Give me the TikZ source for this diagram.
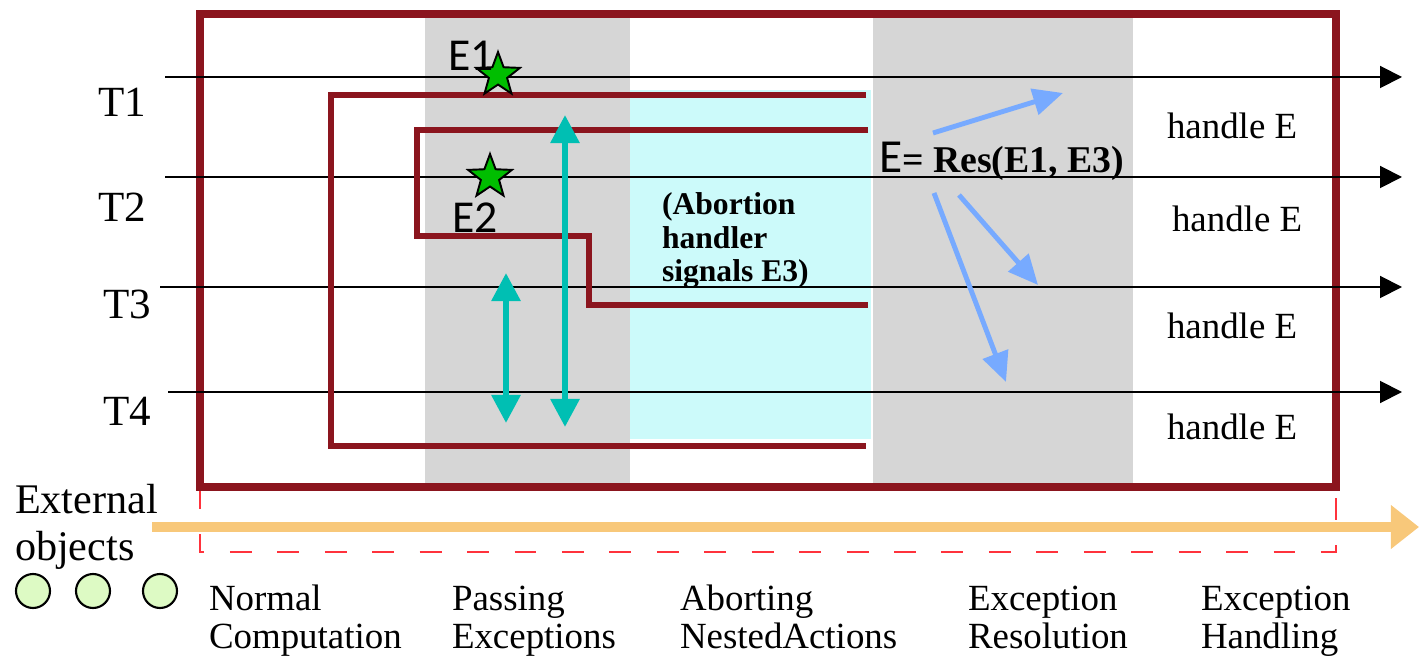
\documentclass[tikz,border=0pt]{standalone}
\usepackage{fontspec}
\setmainfont{Liberation Serif}
\newfontfamily\calib{Carlito}
\usetikzlibrary{arrows.meta,shapes.geometric}

\definecolor{maroon}{RGB}{139,21,30}
\definecolor{bandgray}{RGB}{214,214,214}
\definecolor{abortcyan}{RGB}{204,250,250}
\definecolor{linkteal}{RGB}{0,191,179}
\definecolor{resblue}{RGB}{119,170,255}
\definecolor{extorange}{RGB}{248,200,122}
\definecolor{dashred}{RGB}{255,50,60}
\definecolor{objgreen}{RGB}{221,250,196}
\definecolor{stargreen}{RGB}{0,190,0}

\begin{document}
\begin{tikzpicture}[x=0.02cm,y=-0.02cm,
  every node/.style={inner sep=0pt,outer sep=0pt},
  txt/.style={anchor=base west,font=\fontsize{21}{25}\selectfont},
  tlabel/.style={anchor=base west,font=\fontsize{24.5}{29}\selectfont},
  abortxt/.style={anchor=base west,font=\fontsize{18}{21}\selectfont\bfseries},
  elabel/.style={anchor=base west,font=\calib\fontsize{26}{30}\selectfont},
  timeline/.style={line width=1.1pt,-{Triangle[length=12.5pt,width=12.5pt]}},
  bracket/.style={draw=maroon,line width=3.2pt},
  passarrow/.style={draw=linkteal,line width=3.4pt,
    {Triangle[length=16pt,width=16pt]}-{Triangle[length=16pt,width=16pt]}},
  resarrow/.style={draw=resblue,line width=2.8pt,-{Triangle[length=17pt,width=15pt]}},
  excstar/.style={star,star points=5,star point ratio=2.4,minimum size=0.92cm,
    draw=black,line width=1.1pt,fill=stargreen},
  extobj/.style={circle,minimum size=0.68cm,draw=black,line width=1.2pt,fill=objgreen}
]
\useasboundingbox (0,0) rectangle (1419,658);

% phase bands and the nested-action region
\fill[bandgray] (425,18) rectangle (630,483);
\fill[bandgray] (873,18) rectangle (1133,483);
\fill[abortcyan] (630,90) rectangle (871,439);

% external objects axis and its dashed frame
\coordinate (exts) at (152,527);
\coordinate (exte) at (1419,527);
\draw[extorange,line width=6.2pt,-{Triangle[length=16pt,width=24pt]}] (exts) -- (exte);
\draw[dashred,line width=1.2pt,dash pattern=on 12.5pt off 14.5pt] (200,487) rectangle (1336,552);

% outer coordinated atomic action
\draw[maroon,line width=4.5pt] (200,14) rectangle (1336,487);

% thread timelines
\coordinate (t1s) at (165,77);  \coordinate (t1e) at (1402,77);
\coordinate (t2s) at (165,177); \coordinate (t2e) at (1402,177);
\coordinate (t3s) at (160,287); \coordinate (t3e) at (1402,287);
\coordinate (t4s) at (168,392); \coordinate (t4e) at (1402,392);
\draw[timeline] (t1s) -- (t1e);
\draw[timeline] (t2s) -- (t2e);
\draw[timeline] (t3s) -- (t3e);
\draw[timeline] (t4s) -- (t4e);

% nested actions
\draw[bracket] (866,95) -- (331,95) -- (331,446) -- (866,446);
\draw[bracket] (868,130) -- (417,130) -- (417,236) -- (589,236) -- (589,305) -- (868,305);

% exception propagation
\coordinate (pa1) at (565,115); \coordinate (pa2) at (565,427);
\coordinate (pb1) at (506,273); \coordinate (pb2) at (506,423);
\draw[passarrow] (pa1) -- (pa2);
\draw[passarrow] (pb1) -- (pb2);

% raised exceptions
\node[excstar] (s1) at (498,75) {};
\node[excstar] (s2) at (490,177) {};
\node[elabel] (e1) at (448,71) {E1};
\node[elabel] (e2) at (452,233) {E2};

% resolved exception
\node[anchor=base west] (res) at (879,173)
  {{\calib\fontsize{27}{32}\selectfont E}{\fontsize{21.5}{26}\selectfont\bfseries= Res(E1, E3)}};
\coordinate (r1s) at (933,133);  \coordinate (r1e) at (1063,93);
\coordinate (r2s) at (959,195);  \coordinate (r2e) at (1038,285);
\coordinate (r3s) at (934,193);  \coordinate (r3e) at (1006,382);
\draw[resarrow] (r1s) -- (r1e);
\draw[resarrow] (r2s) -- (r2e);
\draw[resarrow] (r3s) -- (r3e);

% abortion note
\node[abortxt] (ab1) at (662,215) {(Abortion};
\node[abortxt] (ab2) at (662,249) {handler};
\node[abortxt] (ab3) at (662,282) {signals E3)};

% thread names
\node[tlabel] (T1) at (98,117) {T1};
\node[tlabel] (T2) at (98,222) {T2};
\node[tlabel] (T3) at (103,318) {T3};
\node[tlabel] (T4) at (103,425) {T4};

% handlers
\node[txt] (h1) at (1167,139) {handle E};
\node[txt] (h2) at (1172,232) {handle E};
\node[txt] (h3) at (1167,338) {handle E};
\node[txt] (h4) at (1167,439) {handle E};

% external objects
\node[anchor=base west,font=\fontsize{24}{28}\selectfont] (ext1) at (15,513) {External};
\node[anchor=base west,font=\fontsize{24}{28}\selectfont] (ext2) at (15,560) {objects};
\node[extobj] (o1) at (33,591) {};
\node[extobj] (o2) at (93,591) {};
\node[extobj] (o3) at (160,591) {};

% phase names
\node[txt] (p1a) at (209,610) {Normal};
\node[txt] (p1b) at (209,648) {Computation};
\node[txt] (p2a) at (452,610) {Passing};
\node[txt] (p2b) at (452,648) {Exceptions};
\node[txt] (p3a) at (680,610) {Aborting};
\node[txt] (p3b) at (680,648) {NestedActions};
\node[txt] (p4a) at (968,610) {Exception};
\node[txt] (p4b) at (968,648) {Resolution};
\node[txt] (p5a) at (1201,610) {Exception};
\node[txt] (p5b) at (1201,648) {Handling};
\end{tikzpicture}
\end{document}
